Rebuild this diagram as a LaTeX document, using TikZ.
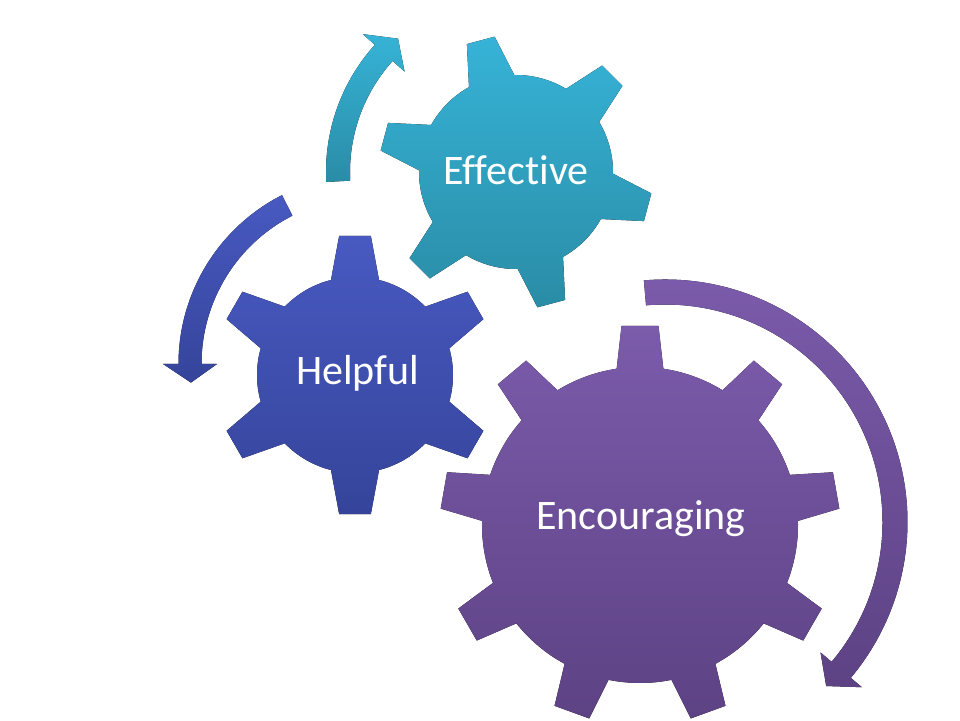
\documentclass[tikz,border=0pt]{standalone}
\usepackage{fontspec}
\setmainfont{Carlito}[Ligatures=NoCommon]
\usepackage{tikz}
\definecolor{efftop}{HTML}{36B3D7}
\definecolor{effbot}{HTML}{2A8CA6}
\definecolor{helptop}{HTML}{4859C1}
\definecolor{helpbot}{HTML}{35449A}
\definecolor{enctop}{HTML}{7B5BAB}
\definecolor{encbot}{HTML}{5D4284}
\tikzstyle{gearlabel} = [text=white, font=\fontsize{42}{50}\selectfont,
    inner sep=0pt, anchor=base]
\tikzset{effshade/.style={top color=efftop, bottom color=effbot},
    helpshade/.style={top color=helptop, bottom color=helpbot},
    encshade/.style={top color=enctop, bottom color=encbot}}
% gear: style, centre, teeth, body radius, outer radius, base half angle, tip half angle, first tooth
\newcommand{\gear}[8]{%
  \pgfmathsetmacro{\gstep}{360/#3}
  \fill[#1, shift={(#2)}] ({#8-#6}:#4)
    \foreach \k in {1,...,#3}{
      -- ({#8+(\k-1)*\gstep-#7}:#5) -- ({#8+(\k-1)*\gstep+#7}:#5)
      -- ({#8+(\k-1)*\gstep+#6}:#4)
      arc[start angle={#8+(\k-1)*\gstep+#6}, delta angle={\gstep-2*#6}, radius=#4]
    } -- cycle;
}
% circular arrow: style, centre, radius, half width, half head width, start, end, tip
\newcommand{\arcarrow}[8]{%
  \fill[#1, shift={(#2)}] ({#6}:{#3+#4}) arc[start angle=#6, end angle=#7, radius=#3+#4]
    -- ({#7}:{#3+#5}) -- ({#8}:#3) -- ({#7}:{#3-#5}) -- ({#7}:{#3-#4})
    arc[start angle=#7, end angle=#6, radius=#3-#4] -- cycle;
}

\begin{document}
\begin{tikzpicture}[x=1pt,y=1pt]
\useasboundingbox (0,0) rectangle (960,720);
    %centres
    \coordinate (effc) at (516,548);
    \coordinate (helpc) at (355,345);
    \coordinate (encc) at (640,195);
    \coordinate (helparr) at (368,356);
    \coordinate (encarr) at (665,198);
    %gears
    \gear{effshade}{effc}{6}{97}{137}{14}{6}{105}
    \gear{helpshade}{helpc}{6}{98}{140}{14.2}{6.5}{90}
    \gear{encshade}{encc}{9}{158}{200}{8.5}{5.3}{90}
    %arrows
    \arcarrow{effshade}{effc}{178}{12}{28}{183}{138}{131.5}
    \arcarrow{helpshade}{helparr}{178}{11.5}{27}{117}{180}{186}
    \arcarrow{encshade}{encarr}{230}{12.5}{27}{95}{-40}{-45.5}
    %labels
    \node[gearlabel] (effective) at (516,535) {Effective};
    \node[gearlabel] (helpful) at (357.5,335) {Helpful};
    \node[gearlabel] (encouraging) at (641,190) {Encouraging};
\end{tikzpicture}
\end{document}
